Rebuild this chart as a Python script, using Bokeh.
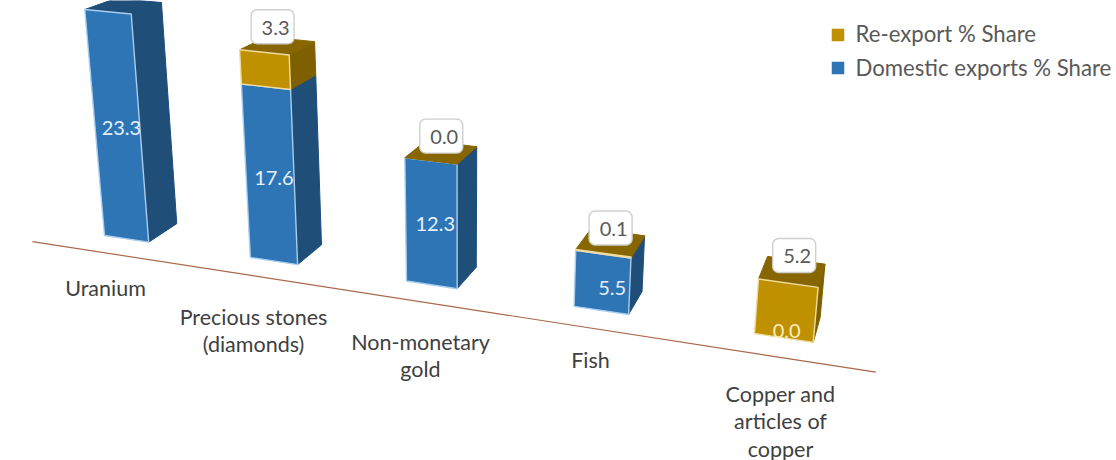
import numpy as np
from bokeh.core.properties import value
from bokeh.embed import file_html
from bokeh.models import ColumnDataSource
from bokeh.plotting import figure
from bokeh.resources import INLINE

# Chart data: share of exports by product, in percent
categories = [
    ["Uranium"],
    ["Precious stones", "(diamonds)"],
    ["Non-monetary", "gold"],
    ["Fish"],
    ["Copper and", "articles of", "copper"],
]
domestic_share = [23.3, 17.6, 12.3, 5.5, 0.0]
reexport_share = [None, 3.3, 0.0, 0.1, 5.2]
series_names = ["Re-export % Share", "Domestic exports % Share"]

# Perspective camera: u runs along the categories, d into the depth, v up the value axis
BAR_WIDTH = 0.31
K = -0.00225


def project(u, d, v):
    w = 1 - 0.03305 * u + 0.034 * d + K * v
    x = (104 + 137.58 * u + 33.8 * d + 460 * K * v) / w
    y = (235 + 13.5 * u - 10.7 * d + 4320 * K * v) / w
    return x, y


def face(*corners):
    pts = [project(*c) for c in corners]
    return [p[0] for p in pts], [p[1] for p in pts]


def rounded_box(cx, cy, w, h, r=6):
    xs, ys = [], []
    quarter = np.linspace(0, np.pi / 2, 6)
    for sx, sy, start in [(1, 1, 0), (-1, 1, np.pi / 2), (-1, -1, np.pi), (1, -1, 3 * np.pi / 2)]:
        ax = cx + sx * (w / 2 - r)
        ay = cy + sy * (h / 2 - r)
        for t in quarter + start:
            xs.append(ax + r * np.cos(t))
            ys.append(ay + r * np.sin(t))
    return xs, ys


p = figure(
    width=1116, height=460, x_range=(0, 1116), y_range=(460, 0),
    output_backend="svg", toolbar_location=None, min_border=0,
    x_axis_location=None, y_axis_location=None,
)
p.grid.visible = False
p.outline_line_color = None
p.background_fill_color = "white"

FONT = value("Lato")
BLUE = dict(front="#2e75b6", side="#1f4e79", top="#1f4e79", edge="#a9cdec")
GOLD = dict(front="#bf9000", side="#7f6000", top="#876600", edge="#f0dca0")

# Ground line under the bars
gx, gy = face((-0.35, -0.72, 0), (4.65, -0.72, 0))
p.line(gx, gy, line_color="#a8694a", line_width=1.2)


def draw_segment(i, v0, v1, colors, show_top):
    u0, u1 = i, i + BAR_WIDTH
    sx, sy = face((u1, 0, v0), (u1, 1, v0), (u1, 1, v1), (u1, 0, v1))
    p.patch(sx, sy, fill_color=colors["side"], line_color=colors["side"], line_width=1)
    if show_top:
        tx, ty = face((u0, 0, v1), (u1, 0, v1), (u1, 1, v1), (u0, 1, v1))
        p.patch(tx, ty, fill_color=colors["top"], line_color=colors["top"], line_width=1)
    if v1 > v0:
        fx, fy = face((u0, 0, v0), (u1, 0, v0), (u1, 0, v1), (u0, 0, v1))
        p.patch(fx, fy, fill_color=colors["front"], line_color=colors["edge"], line_width=1.4)


# Value labels inside the bars sit at the middle of the domestic segment
inside_nudge = [(4, 0), (4, 2), (4, 0), (10, 5), (3, -7)]
# Callouts float just above the top face of each stack
callout_nudge = [(0, 0), (-5, -19), (0, -16), (0, -14.5), (2, -16)]
value_x, value_y, value_text, value_color = [], [], [], []
box_x, box_y, box_text = [], [], []

for i, (dom, rex) in enumerate(zip(domestic_share, reexport_share)):
    top = dom + (rex or 0)
    if dom > 0:
        draw_segment(i, 0, dom, BLUE, rex is None)
    if rex is not None:
        draw_segment(i, dom, top, GOLD, True)
    cx, cy = project(i + BAR_WIDTH / 2, 0, dom / 2)
    value_x.append(cx + inside_nudge[i][0])
    value_y.append(cy + inside_nudge[i][1])
    value_text.append(f"{dom:.1f}")
    value_color.append("#e6f0fa" if dom > 0 else "#fbeec4")
    if rex is not None:
        bx, by = project(i + BAR_WIDTH / 2, 0.5, top)
        box_x.append(bx + callout_nudge[i][0])
        box_y.append(by + callout_nudge[i][1])
        box_text.append(f"{rex:.1f}")

p.text(
    x="x", y="y", text="t", text_color="c",
    source=ColumnDataSource(dict(x=value_x, y=value_y, t=value_text, c=value_color)),
    text_font=FONT, text_font_size="20px", text_align="center", text_baseline="middle",
)

# Callout boxes holding the re-export values
for bx, by, label in zip(box_x, box_y, box_text):
    rx, ry = rounded_box(bx, by, 43, 34)
    p.patch(rx, ry, fill_color="white", line_color="#cfcfcf", line_width=1.4)
p.text(
    x=[b + 3 for b in box_x], y=[b + 1 for b in box_y], text=box_text,
    text_color="#595959", text_font=FONT, text_font_size="20px",
    text_align="center", text_baseline="middle",
)

# Category names under the ground line
label_x = [105, 253, 420, 590, 780]
label_y = [287, 316, 341, 359, 393]
lx, ly, lt = [], [], []
for lines, x0, y0 in zip(categories, label_x, label_y):
    for n, line in enumerate(lines):
        lx.append(x0)
        ly.append(y0 + n * 27.5)
        lt.append(line)
p.text(
    x=lx, y=ly, text=lt, text_color="#404040", text_font=FONT, text_font_size="21.5px",
    text_align="center", text_baseline="middle",
)

# Legend
p.scatter(
    x=[837.5, 837.5], y=[34.5, 67.5], marker="square", size=12.5,
    fill_color=[GOLD["front"], BLUE["front"]], line_color=None,
)
p.text(
    x=[855, 855], y=[33, 67], text=series_names, text_color="#595959", text_font=FONT,
    text_font_size="22.2px", text_align="left", text_baseline="middle",
)

open("out.html", "w").write(file_html(p, INLINE))
